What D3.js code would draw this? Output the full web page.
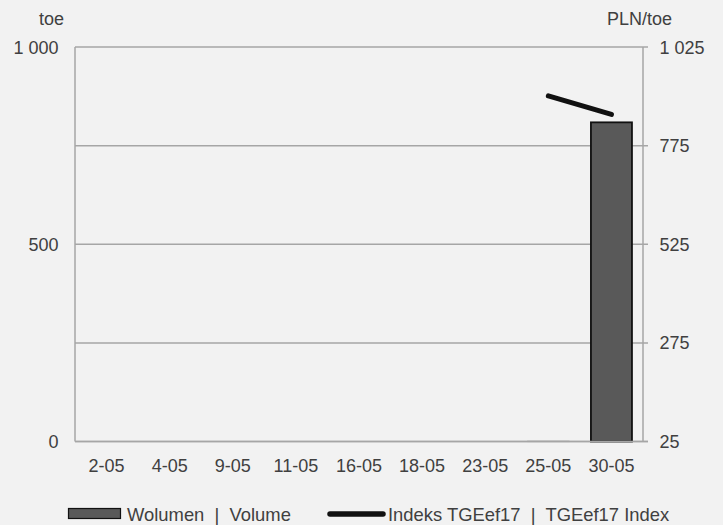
<!DOCTYPE html>
<html><head><meta charset="utf-8">
<script src="https://cdn.jsdelivr.net/npm/d3@7"></script>
<style>body{margin:0;background:#f2f2f2;}svg{display:block;font-family:"Liberation Sans",Arial,sans-serif;}</style>
</head><body>
<svg id="c" width="723" height="525"></svg>
<script>
const categories = ["2-05","4-05","9-05","11-05","16-05","18-05","23-05","25-05","30-05"];
const volume = [0,0,0,0,0,0,0,1,809];
const indexValues = [null,null,null,null,null,null,null,901,854];
const leftTicks = [0,250,500,750,1000];
const leftLabels = {0:"0",500:"500",1000:"1 000"};
const rightTicks = [25,275,525,775,1025];
const rightLabels = {25:"25",275:"275",525:"525",775:"775",1025:"1 025"};

const svg = d3.select("#c");
const L = 75, R = 643, T = 47, B = 441.5;
const x = d3.scaleBand().domain(categories).range([L, R]).paddingInner(0.35).paddingOuter(0.175);
const yL = d3.scaleLinear().domain([0,1000]).range([B, T]);
const yR = d3.scaleLinear().domain([25,1025]).range([B, T]);
const grey = "#a6a6a6", txt = "#404040";
const FS = 18;

// gridlines (with outward tick on right)
svg.append("g").selectAll("line").data(leftTicks).join("line")
  .attr("x1", L).attr("x2", R + 5).attr("y1", d => yL(d)).attr("y2", d => yL(d))
  .attr("stroke", grey).attr("stroke-width", 1.5);

// bars
svg.append("g").selectAll("rect").data(categories.map((c,i)=>({c, v: volume[i]})).filter(d => d.v > 0)).join("rect")
  .attr("x", d => x(d.c)).attr("width", x.bandwidth())
  .attr("y", d => yL(d.v)).attr("height", d => B - yL(d.v))
  .attr("fill", "#595959")
  .attr("stroke", d => d.v > 10 ? "#111" : "#b8b8b8")
  .attr("stroke-width", d => d.v > 10 ? 1.8 : 1.2);

// axis lines
svg.append("line").attr("x1", L).attr("x2", L).attr("y1", T).attr("y2", B).attr("stroke", grey).attr("stroke-width", 1.5);
svg.append("line").attr("x1", R).attr("x2", R).attr("y1", T).attr("y2", B).attr("stroke", grey).attr("stroke-width", 1.5);
svg.append("line").attr("x1", L).attr("x2", R + 5).attr("y1", B).attr("y2", B).attr("stroke", grey).attr("stroke-width", 1.5);

// index line
const pts = categories.map((c,i)=>({c, v: indexValues[i]})).filter(d => d.v != null);
svg.append("path").datum(pts)
  .attr("d", d3.line().x(d => x(d.c) + x.bandwidth()/2).y(d => yR(d.v)))
  .attr("fill", "none").attr("stroke", "#111").attr("stroke-width", 5).attr("stroke-linecap", "round");

// left labels
svg.append("g").selectAll("text").data(leftTicks.filter(d => leftLabels[d])).join("text")
  .attr("x", 58.5).attr("y", d => yL(d) + 6.5).attr("text-anchor", "end")
  .attr("font-size", FS).attr("fill", txt).text(d => leftLabels[d]);
// right labels
svg.append("g").selectAll("text").data(rightTicks).join("text")
  .attr("x", 659.5).attr("y", d => yR(d) + 6.5).attr("text-anchor", "start")
  .attr("font-size", FS).attr("fill", txt).text(d => rightLabels[d]);
// x labels
svg.append("g").selectAll("text").data(categories).join("text")
  .attr("x", d => x(d) + x.bandwidth()/2).attr("y", 472).attr("text-anchor", "middle")
  .attr("font-size", FS).attr("fill", txt).text(d => d);

// axis titles
svg.append("text").attr("x", 39).attr("y", 25).attr("text-anchor", "start").attr("font-size", FS).attr("fill", txt).text("toe");
svg.append("text").attr("x", 672).attr("y", 25).attr("text-anchor", "end").attr("font-size", FS).attr("fill", txt).text("PLN/toe");

// legend
svg.append("rect").attr("x", 68.5).attr("y", 508.5).attr("width", 52).attr("height", 10).attr("fill", "#595959").attr("stroke", "#111").attr("stroke-width", 1.2);
svg.append("text").attr("x", 127).attr("y", 520.5).attr("font-size", 18.4).attr("fill", txt).attr("xml:space","preserve").style("white-space","pre").text("Wolumen  |  Volume");
svg.append("line").attr("x1", 330).attr("x2", 383).attr("y1", 514).attr("y2", 514).attr("stroke", "#111").attr("stroke-width", 5.5).attr("stroke-linecap", "round");
svg.append("text").attr("x", 388).attr("y", 520.5).attr("font-size", 18.4).attr("fill", txt).attr("xml:space","preserve").style("white-space","pre").text("Indeks TGEef17  |  TGEef17 Index");
</script>
</body></html>
